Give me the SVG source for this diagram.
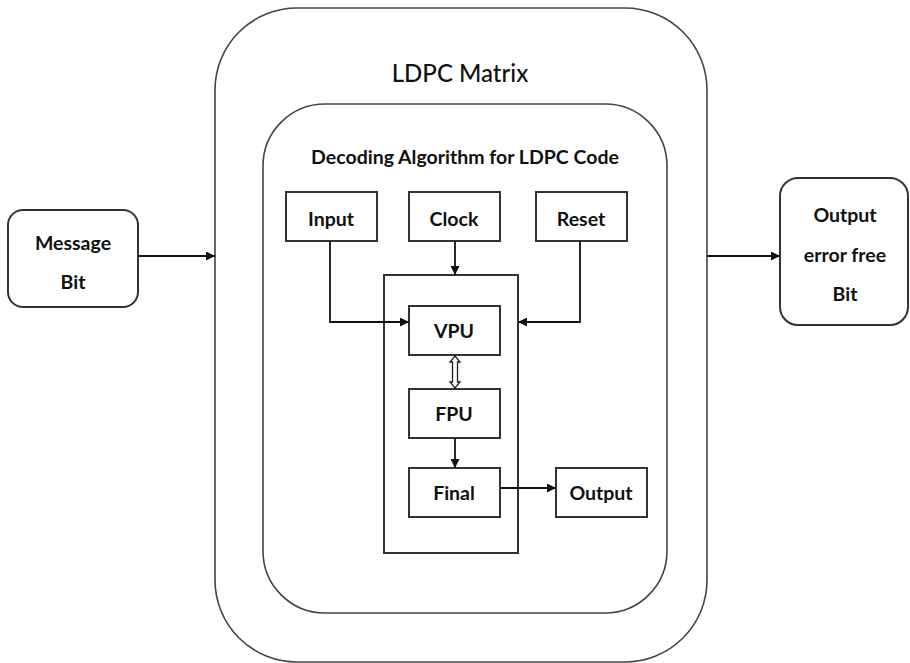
<svg xmlns="http://www.w3.org/2000/svg" width="910" height="663" viewBox="0 0 910 663">
<defs>
<marker id="ah" viewBox="0 0 10 10" refX="10" refY="5" markerWidth="9" markerHeight="9" markerUnits="userSpaceOnUse" orient="auto">
<path d="M0,0 L10,5 L0,10 z" fill="#111"/>
</marker>
<style>
.box{fill:#fff;stroke:#333;stroke-width:2}
.cont{fill:none;stroke:#444;stroke-width:1.6}
.t{font-family:Lato,"Open Sans","Liberation Sans",sans-serif;font-weight:700;font-size:19.5px;fill:#111;text-anchor:middle}
.title{font-family:Lato,"Open Sans","Liberation Sans",sans-serif;font-weight:500;font-size:24px;fill:#111;text-anchor:middle}
.c{fill:none;stroke:#111;stroke-width:1.8;marker-end:url(#ah)}
</style>
</defs>
<rect width="910" height="663" fill="#fff"/>
<g id="ldpc-matrix">
<rect class="cont" x="215" y="8" width="492" height="654" rx="82" ry="82"/>
<text class="title" x="460" y="82">LDPC Matrix</text>
</g>
<g id="decoding">
<rect class="cont" x="263" y="104" width="404" height="509" rx="62" ry="62"/>
<text class="t" x="465" y="164" style="font-size:19.5px">Decoding Algorithm for LDPC Code</text>
</g>
<g id="core">
<rect class="box" x="384" y="275" width="134" height="278"/>
</g>
<g id="message-bit">
<rect class="box" x="8" y="210" width="130" height="97" rx="15" ry="15"/>
<text class="t" x="73" y="250">Message</text>
<text class="t" x="73" y="289">Bit</text>
</g>
<g id="output-error-free">
<rect class="box" x="780" y="178" width="128" height="147" rx="18" ry="18"/>
<text class="t" x="845" y="222">Output</text>
<text class="t" x="845" y="262">error free</text>
<text class="t" x="845" y="301">Bit</text>
</g>
<g id="input">
<rect class="box" x="286" y="192" width="91" height="49"/>
<text class="t" x="331" y="226">Input</text>
</g>
<g id="clock">
<rect class="box" x="409" y="192" width="91" height="49"/>
<text class="t" x="454" y="226">Clock</text>
</g>
<g id="reset">
<rect class="box" x="536" y="192" width="91" height="49"/>
<text class="t" x="581" y="226">Reset</text>
</g>
<g id="vpu">
<rect class="box" x="409" y="306" width="91" height="49"/>
<text class="t" x="454" y="338">VPU</text>
</g>
<g id="fpu">
<rect class="box" x="409" y="389" width="91" height="49"/>
<text class="t" x="454" y="421">FPU</text>
</g>
<g id="final">
<rect class="box" x="409" y="468" width="91" height="49"/>
<text class="t" x="454" y="500">Final</text>
</g>
<g id="output">
<rect class="box" x="556" y="468" width="91" height="49"/>
<text class="t" x="601" y="500">Output</text>
</g>
<g id="connectors">
<path class="c" d="M138,256 H215"/>
<path class="c" d="M707,256 H780"/>
<path class="c" d="M330,241 V322 H409"/>
<path class="c" d="M455,241 V275"/>
<path class="c" d="M580,241 V322 H518"/>
<path class="c" d="M455,438 V468"/>
<path class="c" d="M500,488 H556"/>
<path d="M455,356 L460,362 L457.5,362 L457.5,382 L460,382 L455,388 L450,382 L452.5,382 L452.5,362 L450,362 z" fill="#fff" stroke="#222" stroke-width="1.3"/>
</g>
</svg>
